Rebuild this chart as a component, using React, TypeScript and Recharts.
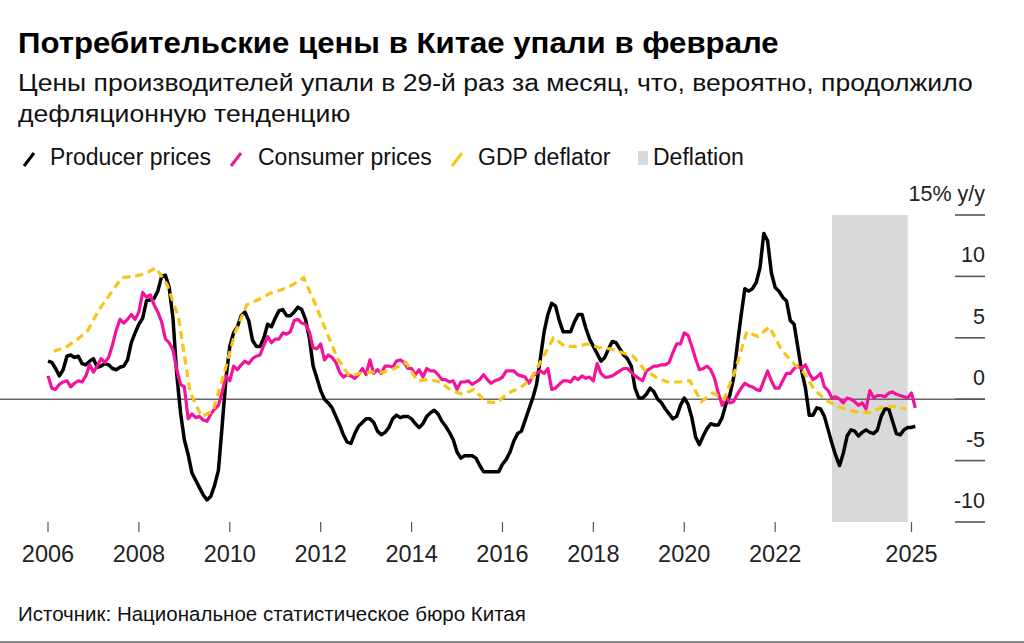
import React from 'react';
import { LineChart, Line, XAxis, YAxis, ReferenceLine, ReferenceArea } from 'recharts';

// Monthly series, Jan 2006 – Feb 2025 (% y/y)
const START_YEAR = 2006;
const producerPrices = [
  3.1, 3.0, 2.5, 1.9, 2.4, 3.5, 3.6, 3.4, 3.5, 2.9, 2.8, 3.1,
  3.3, 2.6, 2.7, 2.9, 2.8, 2.5, 2.4, 2.6, 2.7, 3.2, 4.6, 5.4,
  6.1, 6.6, 8.0, 8.1, 8.2, 8.8, 10.0, 10.1, 9.1, 6.6, 2.0, -1.1,
  -3.3, -4.5, -6.0, -6.6, -7.2, -7.8, -8.2, -7.9, -7.0, -5.8, -2.1, 1.7,
  4.3, 5.4, 5.9, 6.8, 7.1, 6.4, 4.8, 4.3, 4.3, 5.0, 6.1, 5.9,
  6.6, 7.2, 7.3, 6.8, 6.8, 7.1, 7.5, 7.3, 6.5, 5.0, 2.7, 1.7,
  0.7, 0.0, -0.3, -0.7, -1.4, -2.1, -2.9, -3.5, -3.6, -2.8, -2.2, -1.9,
  -1.6, -1.6, -1.9, -2.6, -2.9, -2.7, -2.3, -1.6, -1.3, -1.5, -1.4, -1.4,
  -1.6, -2.0, -2.3, -2.0, -1.4, -1.1, -0.9, -1.2, -1.8, -2.2, -2.7, -3.3,
  -4.3, -4.8, -4.6, -4.6, -4.6, -4.8, -5.4, -5.9, -5.9, -5.9, -5.9, -5.9,
  -5.3, -4.9, -4.3, -3.4, -2.8, -2.6, -1.7, -0.8, 0.1, 1.2, 3.3, 5.5,
  6.9, 7.8, 7.6, 6.4, 5.5, 5.5, 5.5, 6.3, 6.9, 6.9, 5.8, 4.9,
  4.3, 3.7, 3.1, 3.4, 4.1, 4.7, 4.6, 4.1, 3.6, 3.3, 2.7, 0.9,
  0.1, 0.1, 0.4, 0.9, 0.6, 0.0, -0.3, -0.8, -1.2, -1.6, -1.4, -0.5,
  0.1, -0.4, -1.5, -3.1, -3.7, -3.0, -2.4, -2.0, -2.1, -2.1, -1.5, -0.4,
  0.3, 1.7, 4.4, 6.8, 9.0, 8.8, 9.0, 9.5, 10.7, 13.5, 12.9, 10.3,
  9.1, 8.8, 8.3, 8.0, 6.4, 6.1, 4.2, 2.3, 0.9, -1.3, -1.3, -0.7,
  -0.8, -1.4, -2.5, -3.6, -4.6, -5.4, -4.4, -3.0, -2.5, -2.6, -3.0, -2.7,
  -2.5, -2.7, -2.8, -2.5, -1.4, -0.8, -0.8, -1.8, -2.8, -2.9, -2.5, -2.3,
  -2.3, -2.2,
];

const consumerPrices = [
  1.9, 0.9, 0.8, 1.2, 1.4, 1.5, 1.0, 1.3, 1.5, 1.4, 1.9, 2.8,
  2.2, 2.7, 3.3, 3.0, 3.4, 4.4, 5.6, 6.5, 6.2, 6.5, 6.9, 6.5,
  7.1, 8.7, 8.3, 8.5, 7.7, 7.1, 6.3, 4.9, 4.6, 4.0, 2.4, 1.2,
  1.0, -1.6, -1.2, -1.5, -1.4, -1.7, -1.8, -1.2, -0.8, -0.5, 0.6, 1.9,
  1.5, 2.7, 2.4, 2.8, 3.1, 2.9, 3.3, 3.5, 3.6, 4.4, 5.1, 4.6,
  4.9, 4.9, 5.4, 5.3, 5.5, 6.4, 6.5, 6.2, 6.1, 5.5, 4.2, 4.1,
  4.5, 3.2, 3.6, 3.4, 3.0, 2.2, 1.8, 2.0, 1.9, 1.7, 2.0, 2.5,
  2.0, 3.2, 2.1, 2.4, 2.1, 2.7, 2.7, 2.6, 3.1, 3.2, 3.0, 2.5,
  2.5, 2.0, 2.4, 1.8, 2.5, 2.3, 2.3, 2.0, 1.6, 1.6, 1.4, 1.5,
  0.8, 1.4, 1.4, 1.5, 1.2, 1.4, 1.6, 2.0, 1.6, 1.3, 1.5, 1.6,
  1.8, 2.3, 2.3, 2.3, 2.0, 1.9, 1.8, 1.3, 1.9, 2.1, 2.3, 2.1,
  2.5, 0.8, 0.9, 1.2, 1.5, 1.5, 1.4, 1.8, 1.6, 1.9, 1.7, 1.8,
  1.5, 2.9, 2.1, 1.8, 1.8, 1.9, 2.1, 2.3, 2.5, 2.5, 2.2, 1.9,
  1.7, 1.5, 2.3, 2.5, 2.7, 2.7, 2.8, 2.8, 3.0, 3.8, 4.5, 4.5,
  5.4, 5.2, 4.3, 3.3, 2.4, 2.5, 2.7, 2.4, 1.7, 0.5, -0.5, 0.2,
  -0.3, -0.2, 0.4, 0.9, 1.3, 1.1, 1.0, 0.8, 0.7, 1.5, 2.3, 1.5,
  0.9, 0.9, 1.5, 2.1, 2.1, 2.5, 2.7, 2.5, 2.8, 2.1, 1.6, 1.8,
  2.1, 1.0, 0.7, 0.1, 0.2, 0.0, -0.3, 0.1, 0.0, -0.2, -0.5, -0.3,
  -0.8, 0.7, 0.1, 0.3, 0.3, 0.2, 0.5, 0.6, 0.4, 0.3, 0.2, 0.1,
  0.5, -0.7,
];

// Quarterly series, 2006 Q1 – 2024 Q4 (% y/y)
const gdpDeflator = [
  3.9, 4.2, 4.8, 5.6,
  7.3, 8.6, 9.9, 10.0,
  10.2, 10.7, 9.3, 6.6,
  0.6, -1.4, -1.0, 2.1,
  5.5, 7.7, 8.1, 8.6,
  8.9, 9.3, 9.9, 7.8,
  5.5, 3.3, 1.9, 2.1,
  2.2, 2.2, 2.5, 3.0,
  1.5, 1.6, 1.4, 0.7,
  0.4, 0.8, -0.2, -0.3,
  0.5, 0.9, 1.6, 3.3,
  5.0, 4.3, 4.3, 4.5,
  4.2, 4.1, 3.8, 3.5,
  2.4, 1.8, 1.4, 1.4,
  1.5, -0.2, 0.5, 0.0,
  2.4, 5.5, 5.1, 5.9,
  4.1, 3.0, 2.2, 0.7,
  -0.1, -0.6, -0.9, -1.1,
  -1.1, -0.6, -0.6, -0.8,
];

const xTicks = [2006, 2008, 2010, 2012, 2014, 2016, 2018, 2020, 2022, 2025];
const yTicks = [-10, -5, 0, 5, 10, 15];
const deflationPeriod = [2023.25, 2024.917];

const legendItems = [
  { label: 'Producer prices', color: '#000000', kind: 'line' },
  { label: 'Consumer prices', color: '#f2139a', kind: 'line' },
  { label: 'GDP deflator', color: '#f5c518', kind: 'line' },
  { label: 'Deflation', color: '#d9d9d9', kind: 'box' },
];

const ppiData = producerPrices.map((v, i) => ({ x: START_YEAR + i / 12, v }));
const cpiData = consumerPrices.map((v, i) => ({ x: START_YEAR + i / 12, v }));
const gdpData = gdpDeflator.map((v, i) => ({ x: START_YEAR + 0.125 + i * 0.25, v }));

const FONT = '"Liberation Sans", Arial, Helvetica, sans-serif';
const W = 1024;
const H = 643;

// layout: plot from px 0..985 horizontally; 2006 at 48px, 2025 at 911.5px
const PX_PER_YEAR = (911.5 - 48) / 19;
const X_DOMAIN: [number, number] = [2006 - 48 / PX_PER_YEAR, 2025 + (985 - 911.5) / PX_PER_YEAR];

const RightTick = (props: any) => {
  const { x, y, payload } = props;
  const v = payload.value;
  const label = v === 15 ? '15% y/y' : String(v);
  return (
    <g>
      <line x1={x - 30} x2={x} y1={y} y2={y} stroke="#555" strokeWidth={1.6} />
      <text x={x} y={y - 14} textAnchor="end" fontSize={21.5} fill="#222" fontFamily={FONT}>
        {label}
      </text>
    </g>
  );
};

const legendX = [22, 229, 450, 638];
const legendTextX = [50, 258, 478, 653];

export default function App() {
  return (
    <div
      style={{
        position: 'absolute',
        left: 0,
        top: 0,
        width: W,
        height: H,
        background: '#fff',
        overflow: 'hidden',
        fontFamily: FONT,
        color: '#000',
      }}
    >
      <div
        style={{
          position: 'absolute',
          left: 18,
          top: 29,
          fontSize: 29,
          lineHeight: '29px',
          fontWeight: 700,
          whiteSpace: 'nowrap',
          transform: 'scaleX(1.075)',
          transformOrigin: '0 0',
        }}
      >
        Потребительские цены в Китае упали в феврале
      </div>
      <div
        style={{
          position: 'absolute',
          left: 18,
          top: 68,
          fontSize: 23.5,
          lineHeight: '31px',
          color: '#111',
          whiteSpace: 'nowrap',
          transform: 'scaleX(1.13)',
          transformOrigin: '0 0',
        }}
      >
        Цены производителей упали в 29-й раз за месяц, что, вероятно, продолжило
        <br />
        дефляционную тенденцию
      </div>
      {legendItems.map((it, i) => (
        <div key={it.label}>
          {it.kind === 'line' ? (
            <svg style={{ position: 'absolute', left: legendX[i], top: 151 }} width={14} height={17}>
              <line x1={2} y1={15} x2={12} y2={2} stroke={it.color} strokeWidth={3} />
            </svg>
          ) : (
            <div style={{ position: 'absolute', left: legendX[i], top: 151, width: 10, height: 14, background: it.color }} />
          )}
          <div
            style={{ position: 'absolute', left: legendTextX[i], top: 146, fontSize: 23, lineHeight: '23px', color: '#111', whiteSpace: 'nowrap' }}
          >
            {it.label}
          </div>
        </div>
      ))}

      <div style={{ position: 'absolute', left: 0, top: 0 }}>
        <LineChart width={W} height={H} margin={{ top: 215, right: 0, bottom: 91, left: 0 }}>
          <ReferenceArea
            x1={deflationPeriod[0]}
            x2={deflationPeriod[1]}
            y1={-10}
            y2={15}
            fill="#d9d9d9"
            fillOpacity={1}
            stroke="none"
            ifOverflow="visible"
          />
          <XAxis
            type="number"
            dataKey="x"
            domain={X_DOMAIN}
            allowDataOverflow
            ticks={xTicks}
            interval={0}
            axisLine={false}
            tickLine={{ stroke: '#555', strokeWidth: 1.2 }}
            tickSize={10}
            tickMargin={13}
            height={30}
            tick={{ fontSize: 23.5, fill: '#222', fontFamily: FONT }}
          />
          <YAxis
            orientation="right"
            type="number"
            domain={[-10, 15]}
            ticks={yTicks}
            interval={0}
            allowDataOverflow
            axisLine={false}
            tickLine={false}
            tickSize={0}
            tickMargin={0}
            width={39}
            tick={<RightTick />}
          />
          <ReferenceLine y={0} stroke="#666" strokeWidth={1.6} />
          <Line
            data={ppiData}
            dataKey="v"
            type="linear"
            stroke="#000000"
            strokeWidth={3.5}
            dot={false}
            activeDot={false}
            strokeLinejoin="round"
            isAnimationActive={false}
          />
          <Line
            data={cpiData}
            dataKey="v"
            type="linear"
            stroke="#f2139a"
            strokeWidth={3.2}
            dot={false}
            activeDot={false}
            strokeLinejoin="round"
            isAnimationActive={false}
          />
          <Line
            data={gdpData}
            dataKey="v"
            type="linear"
            stroke="#f5c518"
            strokeWidth={3.2}
            strokeDasharray="8 5"
            dot={false}
            activeDot={false}
            isAnimationActive={false}
          />
        </LineChart>
      </div>

      <div
        style={{ position: 'absolute', left: 18, top: 604, fontSize: 20.5, lineHeight: '20px', color: '#111', whiteSpace: 'nowrap' }}
      >
        Источник: Национальное статистическое бюро Китая
      </div>
      <div style={{ position: 'absolute', left: 0, top: 641, width: W, height: 2, background: '#8a8a8a' }} />
    </div>
  );
}
